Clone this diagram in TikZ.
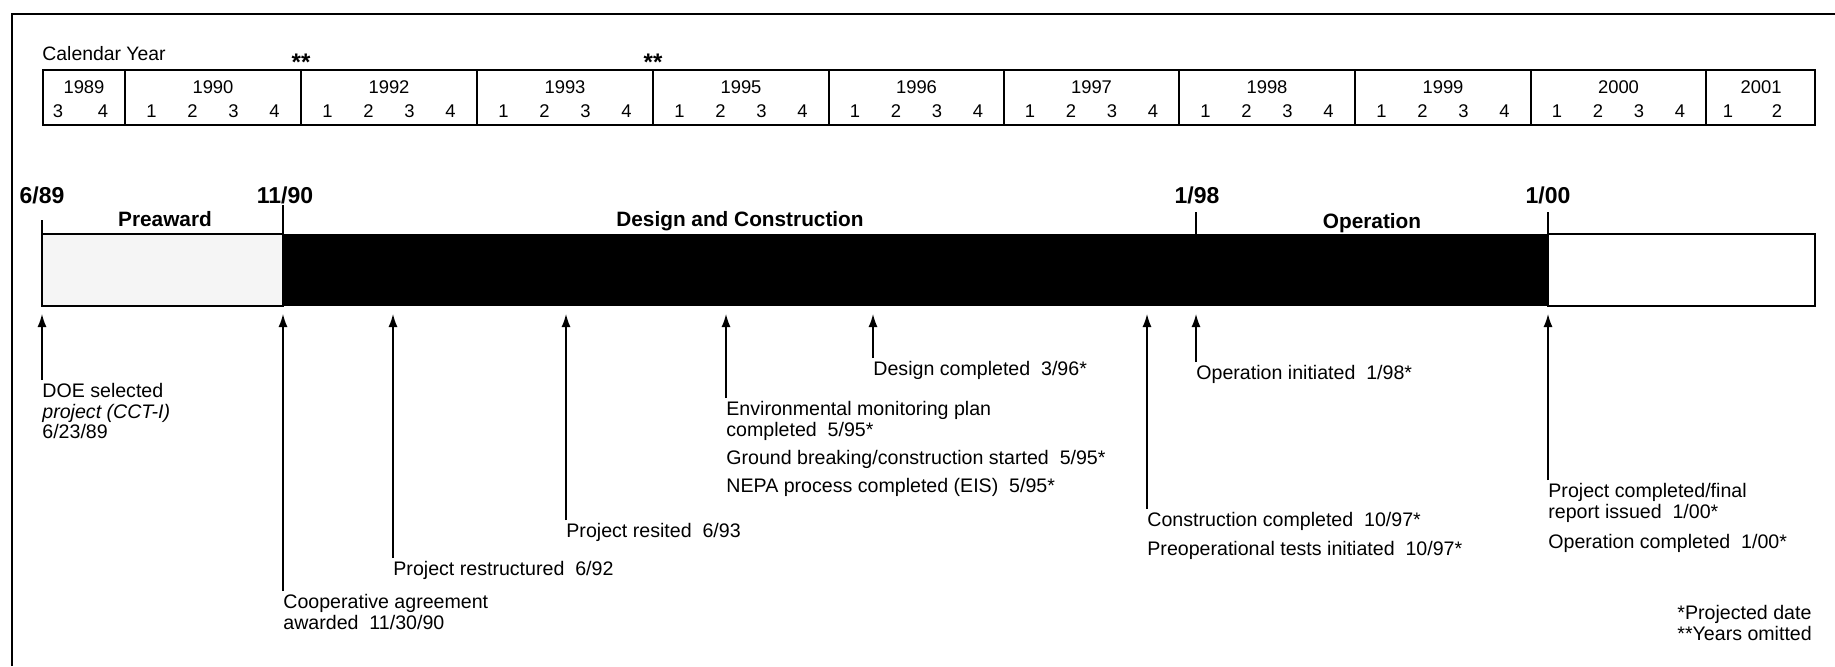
\documentclass[tikz,border=0pt]{standalone}
\usepackage{fontspec}
\setmainfont{Liberation Sans}
\usetikzlibrary{arrows.meta,positioning}

\begin{document}
\begin{tikzpicture}[x=0.5pt, y=-0.5pt,
    every node/.style={font=\fontsize{9.8}{10.2}\selectfont, inner sep=0pt},
    yearlbl/.style={anchor=base, font=\fontsize{9.2}{10}\selectfont},
    datelbl/.style={anchor=base, font=\fontsize{11.5}{12}\selectfont\bfseries},
    phaselbl/.style={anchor=base, font=\fontsize{10.4}{11}\selectfont\bfseries},
    event/.style={anchor=north west, align=left},
    grid/.style={line width=0.75pt},
    tick/.style={line width=0.6pt},
    uparrow/.style={-{Latex[length=6.5pt,width=4.5pt]}, line width=0.7pt},
  ]
  \useasboundingbox (0,0) rectangle (1835,666);

  % --- frame ---
  \draw[line width=1.2pt] (12,666) -- (12,14) -- (1835,14);

  % --- calendar ---
  \node[anchor=base west, font=\fontsize{9.7}{10}\selectfont] (cal) at (42,60) {Calendar Year};
  \node[anchor=base, font=\fontsize{12}{12}\selectfont\bfseries] (skipa) at (301,70) {**};
  \node[anchor=base, font=\fontsize{12}{12}\selectfont\bfseries] (skipb) at (653,70) {**};
  \draw[grid] (43,70) rectangle (1815,125);

  \node[yearlbl] (y1989) at (84,93) {1989};
  \node[yearlbl] (q19893) at (58,117) {3};
  \node[yearlbl] (q19894) at (103,117) {4};
  \foreach \xa/\xb/\yr in {125/301/1990, 301/477/1992, 477/653/1993, 653/829/1995,
      829/1004/1996, 1004/1179/1997, 1179/1355/1998, 1355/1531/1999, 1531/1706/2000} {
    \draw[grid] (\xa,70) -- (\xa,125);
    \node[yearlbl] (y\yr) at ({(\xa+\xb)/2},93) {\yr};
    \foreach \q in {1,...,4}
      \node[yearlbl] (q\yr\q) at ({(\xa+\xb)/2+(\q-2.5)*41},117) {\q};
  }
  \draw[grid] (1706,70) -- (1706,125);
  \node[yearlbl] (y2001) at (1761,93) {2001};
  \node[yearlbl] (q20011) at (1728,117) {1};
  \node[yearlbl] (q20012) at (1777,117) {2};

  % --- phase bar ---
  \filldraw[fill=black!4, line width=0.8pt] (42,234) rectangle (283,306);
  \fill (283,234) rectangle (1548,306);
  \draw[line width=0.8pt] (1548,234) rectangle (1815,306);
  \coordinate (tips) at (0,314);

  \draw[tick] (42,220) -- (42,234);
  \draw[tick] (283,205) -- (283,234);
  \draw[tick] (1196,212) -- (1196,234);
  \draw[tick] (1548,212) -- (1548,234);

  \node[datelbl] (d689) at (42,203) {6/89};
  \node[datelbl] (d1190) at (285,203) {11/90};
  \node[datelbl] (d198) at (1197,203) {1/98};
  \node[datelbl] (d100) at (1548,203) {1/00};

  \node[phaselbl] (preaward) at (165,226) {Preaward};
  \node[phaselbl] (design) at (740,226) {Design and Construction};
  \node[phaselbl] (operation) at (1372,228) {Operation};

  % --- events ---
  \node[event] (e1) at (42,383) {DOE selected\\\textit{project (CCT-I)}\\6/23/89};
  \node[event] (e2) at (283,594) {Cooperative agreement\\awarded~~11/30/90};
  \node[event] (e3) at (393,561) {Project restructured~~6/92};
  \node[event] (e4) at (566,523) {Project resited~~6/93};
  \node[event] (e5) at (726,401) {Environmental monitoring plan\\completed~~5/95*\\[4pt]
    Ground breaking/construction started~~5/95*\\[4pt]NEPA process completed (EIS)~~5/95*};
  \node[event] (e6) at (873,361) {Design completed~~3/96*};
  \node[event] (e7) at (1147,512) {Construction completed~~10/97*\\[4pt]Preoperational tests initiated~~10/97*};
  \node[event] (e8) at (1196,365) {Operation initiated~~1/98*};
  \node[event] (e9) at (1548,483) {Project completed/final\\report issued~~1/00*\\[5pt]Operation completed~~1/00*};

  \foreach \e in {e1,e2,e3,e4,e5,e6,e7,e8,e9}
    \draw[uparrow] ([yshift=1.5pt]\e.north west) -- (\e.north west |- tips);

  % --- notes ---
  \node[event] (notes) at (1677,605) {*Projected date\\**Years omitted};
\end{tikzpicture}
\end{document}
